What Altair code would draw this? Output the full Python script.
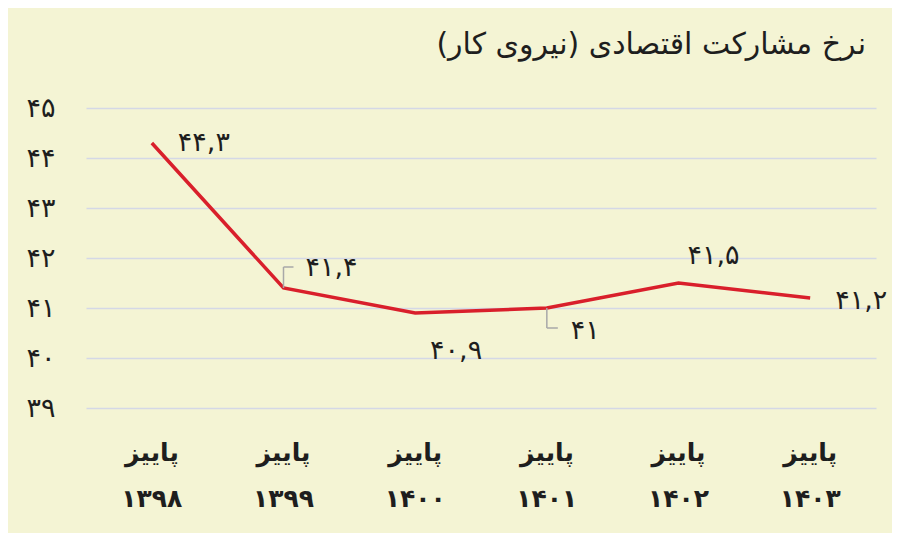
import altair as alt
import pandas as pd

# ---- data ----
years = ["۱۳۹۸", "۱۳۹۹", "۱۴۰۰", "۱۴۰۱", "۱۴۰۲", "۱۴۰۳"]
season = "پاییز"
values = [44.3, 41.4, 40.9, 41.0, 41.5, 41.2]
value_labels = ["۴۴,۳", "۴۱,۴", "۴۰,۹", "۴۱", "۴۱,۵", "۴۱,۲"]
y_ticks = [39, 40, 41, 42, 43, 44, 45]
y_tick_labels = ["۳۹", "۴۰", "۴۱", "۴۲", "۴۳", "۴۴", "۴۵"]
title_text = "نرخ مشارکت اقتصادی (نیروی کار)\u200f"

df = pd.DataFrame({"year": years, "value": values, "label": value_labels,
                   "idx": list(range(len(years)))})

FONT = "DejaVu Sans"
BG = "#f4f4d4"
RED = "#d91f2b"
INK = "#1e1e1e"

ymap = "{" + ",".join(f"'{t}':'{l}'" for t, l in zip(y_ticks, y_tick_labels)) + "}"

x_enc = alt.X("year:N", sort=None, title=None,
              axis=alt.Axis(labelExpr=f"['{season}', datum.label]", labelAngle=0,
                            ticks=False, domain=False, labelFont=FONT, labelFontSize=25,
                            labelFontWeight="bold",
                            labelColor=INK, labelPadding=44, labelLineHeight=46,
                            labelBaseline="middle", grid=False))
y_enc = alt.Y("value:Q", title=None,
              scale=alt.Scale(domain=[39, 45], nice=False, zero=False),
              axis=alt.Axis(values=y_ticks, format="d", labelExpr=f"{ymap}[datum.label]",
                            ticks=False, domain=False, labelFont=FONT, labelFontSize=27,
                            labelColor=INK, labelPadding=31, gridColor="#d4d8e6",
                            gridWidth=1.5))

base = alt.Chart(df)
line = base.mark_line(color=RED, strokeWidth=3.5).encode(x=x_enc, y=y_enc)

# label placement per point (dx, dy, align)
place = [(26, 0, "left"), (22, -20, "left"), (41, 38, "center"),
         (24, 23, "left"), (35, -27, "center"), (25, 3, "left")]
texts = []
for i, (dx, dy, al) in enumerate(place):
    texts.append(base.transform_filter(alt.datum.idx == i).mark_text(
        dx=dx, dy=dy, align=al, baseline="middle", font=FONT, fontSize=27,
        color=INK).encode(x=alt.X("year:N", sort=None), y="value:Q", text="label:N"))

# leader lines
leaders = []
for i, off, hx in [(1, -21, 10), (3, 20, 11)]:
    sub = base.transform_filter(alt.datum.idx == i)
    leaders.append(sub.mark_rule(color="#a8a8a8", strokeWidth=1.5, y2Offset=off).encode(
        x=alt.X("year:N", sort=None), y="value:Q", y2="value:Q"))
    leaders.append(sub.mark_rule(color="#a8a8a8", strokeWidth=1.5, yOffset=off,
                                 x2Offset=hx).encode(
        x=alt.X("year:N", sort=None), x2=alt.X2("year:N"), y="value:Q"))

chart = alt.layer(line, *leaders, *texts).properties(
    width=790, height=300,
    title=alt.TitleParams(title_text, anchor="end", frame="group", font=FONT,
                          fontSize=30, fontWeight="normal", color=INK, offset=34, dx=-10),
    background=BG,
    padding={"left": 78, "top": 100, "right": 16, "bottom": 125},
    autosize=alt.AutoSizeParams(type="none"),
).configure_view(stroke=None)

chart.save("out.html", embed_options={"renderer": "svg", "actions": False})
